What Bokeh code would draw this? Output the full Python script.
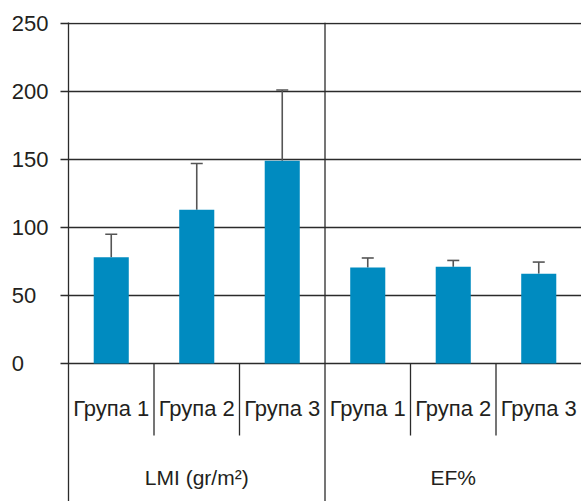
from bokeh.plotting import figure
from bokeh.models import Range1d, FixedTicker, Whisker, ColumnDataSource, TeeHead
from bokeh.core.properties import value
from bokeh.embed import file_html
from bokeh.resources import INLINE

# Data
groups = ["LMI (gr/m²)", "EF%"]
subgroups = ["Група 1", "Група 2", "Група 3"]
lmi_mean = [78, 113, 149]
lmi_sd = [17, 34, 52]
ef_mean = [70.5, 71, 66]
ef_sd = [7, 4.7, 8.5]
y_ticks = [0, 50, 100, 150, 200, 250]

FONT = "Liberation Sans"
TEXT = "#231f20"
LINE = "#2b2b2b"
BAR = "#008bc0"

means = lmi_mean + ef_mean
sds = lmi_sd + ef_sd
n = len(means)
xs = [i + 0.5 for i in range(n)]
labels = subgroups * len(groups)

src = ColumnDataSource(dict(
    x=xs, top=means, upper=[m + s for m, s in zip(means, sds)], label=labels,
))

# lower part of the y range hosts the category table under the bars
y_bottom = -101.5
y_top = 250.6
p = figure(width=581, height=501, output_backend="svg", toolbar_location=None,
           x_range=Range1d(0, n), y_range=Range1d(y_bottom, y_top),
           x_axis_location=None, min_border_left=68, min_border_right=0,
           min_border_top=22, min_border_bottom=0)
p.outline_line_color = None
p.xgrid.visible = False
p.background_fill_color = "white"

ax = p.yaxis[0]
ax.ticker = FixedTicker(ticks=y_ticks)
ax.axis_line_color = LINE
ax.axis_line_width = 1.3
ax.major_tick_line_color = LINE
ax.major_tick_line_width = 1.3
ax.major_tick_out = 8
ax.major_tick_in = 0
ax.minor_tick_line_color = None
ax.major_label_standoff = 12
ax.major_label_text_font = FONT
ax.major_label_text_font_size = "22px"
ax.major_label_text_color = TEXT
# pad with figure spaces so the values line up on their left edge
width_max = max(len(str(v)) for v in y_ticks)
ax.major_label_overrides = {v: str(v) + "\u2007" * (width_max - len(str(v)))
                            for v in y_ticks}

p.ygrid.ticker = FixedTicker(ticks=y_ticks)
p.ygrid.grid_line_color = LINE
p.ygrid.grid_line_width = 1.3

# error bars (drawn first, bars cover the lower part)
whisk = Whisker(source=src, base="x", lower="top", upper="upper", dimension="height",
                line_color="#555555", line_width=1.6,
                upper_head=TeeHead(size=12, line_color="#555555", line_width=1.6),
                lower_head=None)
p.add_layout(whisk)

p.vbar(x="x", top="top", bottom=0, width=0.41, source=src,
       fill_color=BAR, line_color=None)

# separators of the category table
short_x = [i for i in range(1, n) if i % 3 != 0]
p.segment(x0=short_x, y0=[0] * len(short_x), x1=short_x, y1=[-53] * len(short_x),
          line_color=LINE, line_width=1.3)
p.segment(x0=[3], y0=[y_bottom], x1=[3], y1=[y_top], line_color=LINE, line_width=1.3)

p.text(x="x", y=-33, text="label", source=src, text_align="center",
       text_baseline="middle", text_font=value(FONT), text_font_size="22px",
       text_color=TEXT)
p.text(x=[1.5, 4.5], y=[-84, -84], text=groups, text_align="center",
       text_baseline="middle", text_font=value(FONT), text_font_size="21px",
       text_color=TEXT)

open("out.html", "w").write(file_html(p, INLINE))
